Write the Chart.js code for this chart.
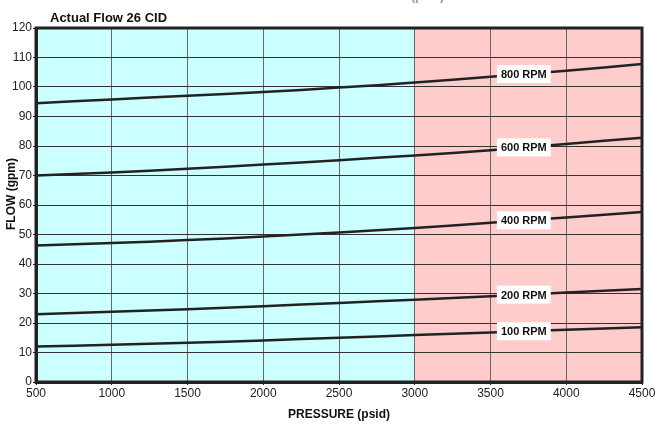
<!DOCTYPE html>
<html lang="en">
<head>
<meta charset="UTF-8">
<title>Actual Flow 26 CID</title>
<style>
  html, body { margin: 0; padding: 0; background: #fff; }
  #wrap { width: 663px; height: 424px; }
</style>
</head>
<body>
<div id="wrap"><canvas id="flowChart" width="663" height="424"></canvas></div>
<script src="https://cdn.jsdelivr.net/npm/chart.js"></script>
<script>
// pressure (psid) points
var pressure = [500, 1000, 1500, 2000, 2500, 3000, 3500, 4000, 4500];
// flow (gpm) per speed
var flow100 = [12, 12.6, 13.3, 14.1, 15, 15.9, 16.8, 17.7, 18.6];
var flow200 = [23, 23.8, 24.7, 25.7, 26.8, 27.9, 29.1, 30.3, 31.5];
var flow400 = [46.3, 47.1, 48.1, 49.3, 50.7, 52.2, 54, 55.8, 57.6];
var flow600 = [70, 71, 72.3, 73.7, 75.2, 76.8, 78.6, 80.7, 82.8];
var flow800 = [94.5, 95.8, 97, 98.3, 99.8, 101.5, 103.5, 105.5, 107.8];
var speedLabels = ['100 RPM', '200 RPM', '400 RPM', '600 RPM', '800 RPM'];
var ratedLimit = 3000;   // cyan / pink split
var labelAt = 3720;      // where the rpm tags sit

var FONT = '"Liberation Sans", Arial, sans-serif';

function pts(arr) {
    return pressure.map(function (p, i) { return { x: p, y: arr[i] }; });
}

var series = [flow100, flow200, flow400, flow600, flow800];

// background bands + frame
var bandsPlugin = {
    id: 'bands',
    beforeDatasetsDraw: function (chart) {
        var a = chart.chartArea, ctx = chart.ctx;
        var xs = chart.scales.x.getPixelForValue(ratedLimit);
        ctx.save();
        ctx.globalCompositeOperation = 'destination-over';
        ctx.fillStyle = '#ccffff';
        ctx.fillRect(a.left, a.top, xs - a.left, a.bottom - a.top);
        ctx.fillStyle = '#ffcccc';
        ctx.fillRect(xs, a.top, a.right - xs, a.bottom - a.top);
        ctx.restore();
    },
    afterDraw: function (chart) {
        var a = chart.chartArea, ctx = chart.ctx;
        ctx.save();
        ctx.strokeStyle = '#222';
        ctx.lineWidth = 3;
        ctx.strokeRect(a.left, a.top, a.right - a.left, a.bottom - a.top);
        ctx.restore();
    }
};

// rpm tags on the curves
var tagPlugin = {
    id: 'tags',
    afterDatasetsDraw: function (chart) {
        var ctx = chart.ctx;
        var xs = chart.scales.x, ys = chart.scales.y;
        ctx.save();
        ctx.font = 'bold 11px ' + FONT;
        ctx.textAlign = 'center';
        ctx.textBaseline = 'middle';
        series.forEach(function (arr, k) {
            var i = 0;
            while (pressure[i + 1] < labelAt) i++;
            var t = (labelAt - pressure[i]) / (pressure[i + 1] - pressure[i]);
            var v = arr[i] + t * (arr[i + 1] - arr[i]);
            var px = xs.getPixelForValue(labelAt), py = ys.getPixelForValue(v);
            var w = ctx.measureText(speedLabels[k]).width + 8;
            ctx.fillStyle = '#fff';
            ctx.fillRect(px - w / 2, py - 9, w, 18);
            ctx.fillStyle = '#111';
            ctx.fillText(speedLabels[k], px, py + 1);
        });
        ctx.restore();
    }
};

// titles
var textPlugin = {
    id: 'texts',
    afterDraw: function (chart) {
        var ctx = chart.ctx;
        ctx.save();
        ctx.fillStyle = '#111';
        ctx.font = 'bold 13px ' + FONT;
        ctx.textAlign = 'left';
        ctx.textBaseline = 'alphabetic';
        ctx.fillText('Actual Flow 26 CID', 50, 22);

        ctx.font = 'bold 12px ' + FONT;
        ctx.textAlign = 'center';
        ctx.fillText('PRESSURE (psid)', 339, 418);
        // clipped copy at the very top of the sheet
        ctx.fillStyle = '#999';
        ctx.fillText('PRESSURE (psid)', 393, 0);

        ctx.fillStyle = '#111';
        ctx.translate(12, 194);
        ctx.rotate(-Math.PI / 2);
        ctx.textBaseline = 'middle';
        ctx.fillText('FLOW (gpm)', 0, 0);
        ctx.restore();
    }
};

var datasets = series.map(function (arr, k) {
    return {
        label: speedLabels[k],
        data: pts(arr),
        borderColor: '#222',
        borderWidth: 2.5,
        pointRadius: 0,
        tension: 0.4,
        fill: false
    };
});

new Chart(document.getElementById('flowChart'), {
    type: 'line',
    data: { datasets: datasets },
    plugins: [bandsPlugin, tagPlugin, textPlugin],
    options: {
        responsive: false,
        animation: false,
        layout: { padding: { top: 28, right: 21, left: 0, bottom: 0 } },
        plugins: {
            legend: { display: false },
            tooltip: { enabled: false },
            title: { display: false }
        },
        scales: {
            x: {
                type: 'linear',
                min: 500,
                max: 4500,
                ticks: {
                    stepSize: 500,
                    color: '#222',
                    font: { family: FONT, size: 12 },
                    padding: 1,
                    maxRotation: 0,
                    callback: function (v) { return String(v); }
                },
                grid: { color: '#666', lineWidth: 1, tickLength: 3, tickColor: '#222' },
                border: { color: '#222', width: 3 },
                afterFit: function (s) { s.height = 42; }
            },
            y: {
                min: 0,
                max: 120,
                ticks: {
                    stepSize: 10,
                    color: '#222',
                    font: { family: FONT, size: 12 },
                    padding: 1
                },
                grid: { color: '#333', lineWidth: 1, tickLength: 3, tickColor: '#222' },
                border: { color: '#222', width: 3 },
                afterFit: function (s) { s.width = 36; }
            }
        }
    }
});
</script>
</body>
</html>
